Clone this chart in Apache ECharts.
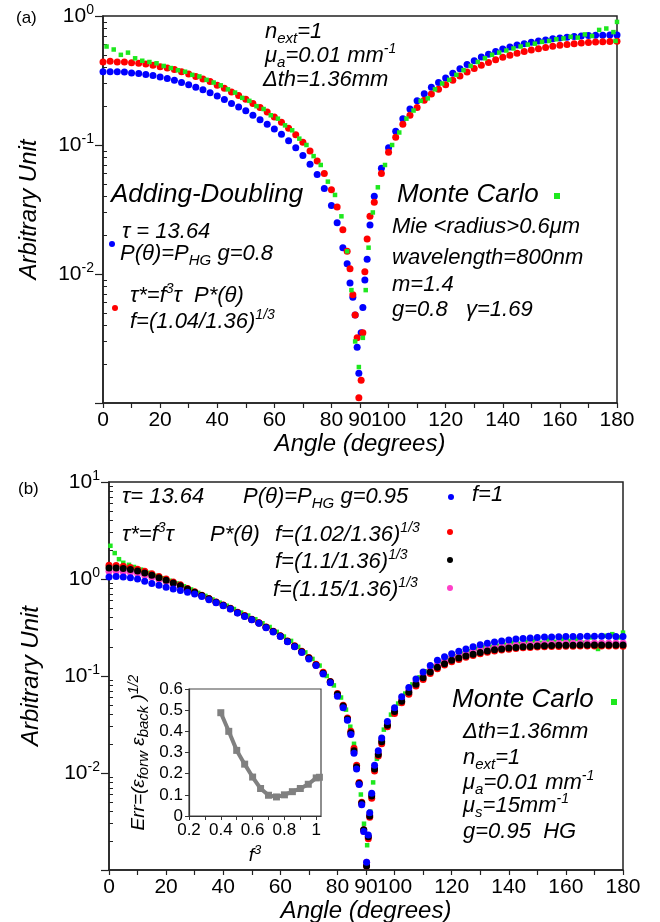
<!DOCTYPE html>
<html><head><meta charset="utf-8">
<script src="https://cdn.jsdelivr.net/npm/echarts@6/dist/echarts.min.js"></script>
<style>html,body{margin:0;padding:0;background:#fff}#c{width:660px;height:922px}</style>
</head><body><div id="c"></div>
<script>
const FONT = '"Liberation Sans", Arial, Helvetica, sans-serif';

// ---------- Panel (a) data ----------
const angA = [0,2.5,5,7.5,10,12.5,15,17.5,20,22.5,25,27.5,30,32.5,35,37.5,40,42.5,45,47.5,50,52.5,55,57.5,60,62.5,65,67.5,70,72.5,75,77.5,80,
  82,84,85.5,86.5,87.5,88.3,89,89.6,
  90.4,91,91.7,92.5,93.5,
  95,97.5,100,102.5,105,107.5,110,112.5,115,117.5,120,122.5,125,127.5,130,132.5,135,137.5,140,142.5,145,147.5,150,152.5,155,157.5,160,162.5,165,167.5,170,172.5,175,177.5,180];
const blueA = [0.37,0.37,0.37,0.368,0.362,0.358,0.352,0.345,0.337,0.327,0.317,0.305,0.293,0.28,0.268,0.254,0.24,0.225,0.21,0.197,0.184,0.17,0.157,0.145,0.133,0.121,0.108,0.095,0.083,0.071,0.059,0.046,0.034,
  0.025,0.016,0.012,0.0085,0.0066,0.0048,0.0027,0.0017,
  0.0035,0.0055,0.009,0.013,0.024,
  0.04,0.066,0.095,0.128,0.16,0.19,0.22,0.25,0.28,0.305,0.33,0.36,0.39,0.42,0.45,0.48,0.505,0.53,0.555,0.575,0.595,0.61,0.625,0.64,0.652,0.665,0.675,0.685,0.693,0.70,0.705,0.708,0.71,0.712,0.713];
const redA = [0.44,0.445,0.44,0.44,0.435,0.43,0.425,0.415,0.405,0.395,0.385,0.37,0.355,0.34,0.325,0.31,0.29,0.275,0.258,0.242,0.226,0.21,0.195,0.18,0.165,0.15,0.135,0.12,0.105,0.09,0.075,0.06,0.045,
  0.033,0.022,0.015,0.011,0.0069,0.0048,0.0032,0.0011,
  0.0015,0.0035,0.0104,0.0187,0.028,
  0.036,0.06,0.088,0.115,0.145,0.17,0.195,0.222,0.248,0.27,0.293,0.318,0.343,0.368,0.392,0.415,0.437,0.458,0.478,0.497,0.515,0.53,0.545,0.558,0.57,0.582,0.592,0.602,0.61,0.617,0.623,0.628,0.632,0.635,0.638];
const angMCA = [1.25,3.75,6.25,8.75,11.25,13.75,16.25,18.75,21.25,23.75,26.25,28.75,31.25,33.75,36.25,38.75,41.25,43.75,46.25,48.75,51.25,53.75,56.25,58.75,61.25,63.75,66.25,68.75,71.25,73.75,76.25,78.75,81.25,
  83.5,85.5,87,88.3,89.6,91,92,93,94.5,
  96.25,98.75,101.25,103.75,106.25,108.75,111.25,113.75,116.25,118.75,121.25,123.75,126.25,128.75,131.25,133.75,136.25,138.75,141.25,143.75,146.25,148.75,151.25,153.75,156.25,158.75,161.25,163.75,166.25,168.75,171.25,173.75,176.25,178.75,179.5,180];
const greenA = [0.58,0.55,0.5,0.52,0.47,0.45,0.44,0.43,0.41,0.395,0.38,0.37,0.35,0.34,0.32,0.305,0.29,0.27,0.255,0.232,0.22,0.2,0.19,0.17,0.16,0.142,0.13,0.112,0.1,0.082,0.07,0.052,0.041,
  0.028,0.015,0.0075,0.003,0.0019,0.0032,0.0075,0.016,0.03,
  0.047,0.07,0.1,0.125,0.16,0.185,0.22,0.23,0.27,0.3,0.32,0.35,0.38,0.41,0.44,0.47,0.5,0.52,0.54,0.56,0.58,0.6,0.61,0.63,0.64,0.66,0.67,0.69,0.68,0.72,0.7,0.78,0.8,0.75,0.64,0.9];

// ---------- Panel (b) data ----------
const angB = [0,2.5,5,7.5,10,12.5,15,17.5,20,22.5,25,27.5,30,32.5,35,37.5,40,42.5,45,47.5,50,52.5,55,57.5,60,62.5,65,67.5,70,72.5,75,77.5,80,
  82,83.5,84.7,85.8,86.7,87.6,88.5,89.2,
  90.2,90.8,91.3,92,93,94.3,95.5,
  97.5,100,102.5,105,107.5,110,112.5,115,117.5,120,122.5,125,127.5,130,132.5,135,137.5,140,142.5,145,147.5,150,152.5,155,157.5,160,162.5,165,167.5,170,172.5,175,177.5,180];
const blueB = [1.05,1.06,1.05,1.03,1.0,0.95,0.9,0.86,0.82,0.79,0.76,0.73,0.7,0.66,0.61,0.57,0.53,0.49,0.445,0.41,0.38,0.35,0.315,0.285,0.255,0.225,0.2,0.175,0.15,0.128,0.105,0.085,0.062,
  0.047,0.035,0.025,0.016,0.011,0.0076,0.0047,0.0025,
  0.0012,0.0023,0.0039,0.0062,0.012,0.017,0.023,
  0.034,0.047,0.061,0.076,0.093,0.11,0.128,0.145,0.158,0.17,0.18,0.19,0.2,0.21,0.217,0.224,0.23,0.235,0.24,0.244,0.247,0.25,0.252,0.253,0.254,0.255,0.256,0.256,0.257,0.257,0.257,0.257,0.256,0.256];
const redB = [1.39,1.38,1.35,1.31,1.26,1.2,1.13,1.06,1.0,0.93,0.87,0.8,0.74,0.68,0.63,0.58,0.54,0.5,0.455,0.42,0.385,0.355,0.32,0.29,0.26,0.23,0.205,0.18,0.155,0.132,0.109,0.088,0.066,
  0.05,0.037,0.027,0.018,0.012,0.008,0.005,0.0026,
  0.0011,0.0021,0.0035,0.0055,0.0105,0.015,0.02,
  0.03,0.041,0.053,0.065,0.079,0.092,0.106,0.119,0.13,0.14,0.148,0.156,0.163,0.17,0.176,0.181,0.185,0.189,0.192,0.195,0.197,0.199,0.2,0.201,0.202,0.203,0.203,0.204,0.204,0.204,0.204,0.204,0.204,0.203];
const blackB = [1.3,1.3,1.28,1.25,1.21,1.15,1.09,1.03,0.97,0.91,0.85,0.79,0.73,0.675,0.625,0.575,0.535,0.495,0.45,0.415,0.383,0.352,0.318,0.288,0.258,0.228,0.203,0.178,0.153,0.13,0.107,0.087,0.065,
  0.049,0.036,0.026,0.017,0.0115,0.0078,0.0049,0.0026,
  0.0011,0.0022,0.0036,0.0058,0.011,0.0155,0.021,
  0.031,0.043,0.055,0.068,0.082,0.096,0.11,0.123,0.134,0.145,0.153,0.161,0.168,0.175,0.181,0.186,0.19,0.194,0.197,0.2,0.202,0.204,0.205,0.206,0.207,0.208,0.208,0.209,0.209,0.209,0.209,0.209,0.209,0.209];
const pinkB = [1.2,1.2,1.19,1.17,1.14,1.09,1.04,0.99,0.94,0.88,0.83,0.77,0.72,0.67,0.62,0.572,0.532,0.492,0.448,0.413,0.381,0.351,0.317,0.287,0.257,0.227,0.202,0.177,0.152,0.129,0.106,0.086,0.064,
  0.048,0.0355,0.0255,0.0165,0.0112,0.0077,0.0048,0.0025,
  0.0012,0.0022,0.0037,0.006,0.0115,0.016,0.022,
  0.032,0.045,0.058,0.071,0.086,0.101,0.116,0.13,0.142,0.153,0.162,0.17,0.178,0.185,0.191,0.196,0.2,0.204,0.207,0.21,0.212,0.214,0.215,0.216,0.217,0.218,0.218,0.219,0.219,0.219,0.219,0.219,0.219,0.219];
const angMCB = [0.5,2,3.5,5,7,
  8.75,11.25,13.75,16.25,18.75,21.25,23.75,26.25,28.75,31.25,33.75,36.25,38.75,41.25,43.75,46.25,48.75,51.25,53.75,56.25,58.75,61.25,63.75,66.25,68.75,71.25,73.75,76.25,78.75,81.25,
  83,84.5,85.8,87,88.2,89.3,90.4,91.5,92.5,93.8,95.2,
  96.25,98.75,101.25,103.75,106.25,108.75,111.25,113.75,116.25,118.75,121.25,123.75,126.25,128.75,131.25,133.75,136.25,138.75,141.25,143.75,146.25,148.75,151.25,153.75,156.25,158.75,161.25,163.75,166.25,168.75,171.25,173.75,176.25,178.75,180];
const greenB = [2.2,1.85,1.6,1.47,1.4,
  1.33,1.25,1.16,1.08,1.02,0.96,0.9,0.84,0.78,0.72,0.67,0.615,0.57,0.53,0.49,0.45,0.42,0.385,0.35,0.32,0.285,0.255,0.23,0.2,0.175,0.15,0.128,0.1,0.08,0.06,
  0.045,0.03,0.02,0.012,0.006,0.003,0.0018,0.004,0.008,0.014,0.022,
  0.028,0.04,0.052,0.066,0.082,0.097,0.112,0.125,0.14,0.152,0.16,0.17,0.18,0.19,0.197,0.2,0.205,0.21,0.22,0.215,0.225,0.23,0.22,0.235,0.225,0.24,0.23,0.24,0.22,0.25,0.19,0.26,0.27,0.25,0.28];

// ---------- Inset data ----------
const f3 = [0.4,0.45,0.5,0.55,0.6,0.65,0.7,0.75,0.8,0.85,0.9,0.95,1.0,1.02];
const errV = [0.488,0.40,0.31,0.245,0.184,0.13,0.098,0.09,0.1,0.115,0.13,0.15,0.18,0.183];

// ---------- Tick values ----------
const xLabels = [0,20,40,60,80,90,100,120,140,160,180];
const xTicks = [0,10,20,30,40,50,60,70,80,90,100,110,120,130,140,150,160,170,180];
const yLabelsA = [1,0.1,0.01];
const yMajorA = [1,0.1,0.01,0.001];
const yLabelsB = [10,1,0.1,0.01];
const yMajorB = [10,1,0.1,0.01,0.001];
const minorA = [0.002,0.003,0.004,0.005,0.006,0.007,0.008,0.009,0.02,0.03,0.04,0.05,0.06,0.07,0.08,0.09,0.2,0.3,0.4,0.5,0.6,0.7,0.8,0.9];
const minorB = minorA.concat([2,3,4,5,6,7,8,9]);
const insetXLabels = [0.2,0.4,0.6,0.8,1];
const insetXTicks = [0.2,0.3,0.4,0.5,0.6,0.7,0.8,0.9,1.0];

const COL = {blue:'#0000ff', red:'#ff0000', green:'#1ee81e', black:'#000000', pink:'#ff40c8', gray:'#808080'};
const AX = '#222';

function zip(xs, ys){ return xs.map((x,i)=>[x, ys[i]]); }

const powRich = {
  b:{fontFamily:FONT, fontSize:21, lineHeight:26, color:'#000'},
  e:{fontFamily:FONT, fontSize:14, lineHeight:14, verticalAlign:'top', color:'#000'}
};
function powFmt(v){ const e = Math.round(Math.log10(v)); return '{b|10}{e|' + e + '}'; }

function xAxisCfg(grid, gap){
  return {gridIndex:grid, type:'value', min:0, max:180,
    axisLine:{show:true, onZero:false, lineStyle:{color:AX, width:1.5}},
    axisTick:{show:true, length:5, inside:false, customValues:xTicks, lineStyle:{color:AX, width:1.2}},
    axisLabel:{show:true, customValues:xLabels, fontSize:21, color:'#000', fontFamily:FONT, margin:7, hideOverlap:false},
    splitLine:{show:false},
    name:'Angle (degrees)', nameLocation:'middle', nameGap:gap,
    nameTextStyle:{fontSize:24, fontStyle:'italic', color:'#000', fontFamily:FONT}};
}
function yMainCfg(grid, min, max, labels, major, gap){
  return {gridIndex:grid, type:'log', logBase:10, min:min, max:max,
    axisLine:{show:true, onZero:false, lineStyle:{color:AX, width:1.5}},
    axisTick:{show:true, length:8, inside:false, customValues:major, lineStyle:{color:AX, width:1.2}},
    axisLabel:{show:true, customValues:labels, formatter:powFmt, rich:powRich, margin:9, color:'#000'},
    splitLine:{show:false}, minorTick:{show:false},
    name:'Arbitrary Unit', nameLocation:'middle', nameGap:gap, nameRotate:90,
    nameTextStyle:{fontSize:24, fontStyle:'italic', color:'#000', fontFamily:FONT}};
}
function yMinorCfg(grid, min, max, minor){
  return {gridIndex:grid, type:'log', logBase:10, min:min, max:max,
    axisLine:{show:false},
    axisTick:{show:true, length:4, inside:false, customValues:minor, lineStyle:{color:AX, width:1}},
    axisLabel:{show:false}, splitLine:{show:false}};
}
function scat(name, xi, yi, data, color, symbol, size){
  return {name, type:'scatter', xAxisIndex:xi, yAxisIndex:yi, data, symbol, symbolSize:size,
    itemStyle:{color:color, opacity:1}, emphasis:{disabled:true}, silent:true, clip:false};
}

// ---------- annotations ----------
const R = {
  i:{fontFamily:FONT, fontStyle:'italic', fontSize:22, lineHeight:28, fill:'#000'},
  s:{fontFamily:FONT, fontStyle:'italic', fontSize:15, lineHeight:15, verticalAlign:'bottom', fill:'#000'},
  p:{fontFamily:FONT, fontStyle:'italic', fontSize:14, lineHeight:14, verticalAlign:'top', fill:'#000'},
  big:{fontFamily:FONT, fontStyle:'italic', fontSize:26, lineHeight:30, fill:'#000'},
  n:{fontFamily:FONT, fontSize:17, lineHeight:22, fill:'#000'}
};
function T(x, y, text){
  return {type:'text', x:x, y:y, z:100, silent:true,
    style:{text:text, rich:R, fill:'#000', font:'italic 22px ' + FONT, align:'left', textAlign:'left', verticalAlign:'middle', textVerticalAlign:'middle'}};
}
function dot(x, y, c){ return {type:'circle', z:100, silent:true, shape:{cx:x, cy:y, r:3}, style:{fill:c}}; }
function sq(x, y, c){ return {type:'rect', z:100, silent:true, shape:{x:x-3, y:y-3, width:6, height:6}, style:{fill:c}}; }

const graphics = [
  T(16, 18, '{n|(a)}'),
  T(265, 32, '{i|n}{s|ext}{i|=1}'),
  T(265, 56, '{i|μ}{s|a}{i|=0.01 mm}{p|-1}'),
  T(263, 80, '{i|Δth=1.36mm}'),
  T(111, 195, '{big|Adding-Doubling}'),
  dot(112, 244, COL.blue),
  T(122, 232, '{i|τ = 13.64}'),
  T(120, 254, '{i|P(θ)=P}{s|HG}{i| g=0.8}'),
  dot(115, 308, COL.red),
  T(130, 296, '{i|τ*=f}{p|3}{i|τ  P*(θ)}'),
  T(130, 322, '{i|f=(1.04/1.36)}{p|1/3}'),
  T(397, 195, '{big|Monte Carlo}'),
  sq(557, 196, COL.green),
  T(392, 227, '{i|Mie <radius>0.6μm}'),
  T(392, 258, '{i|wavelength=800nm}'),
  T(392, 285, '{i|m=1.4}'),
  T(392, 310, '{i|g=0.8   γ=1.69}'),

  T(18, 489, '{n|(b)}'),
  T(122, 497, '{i|τ= 13.64}'),
  T(243, 497, '{i|P(θ)=P}{s|HG}{i| g=0.95}'),
  dot(451, 497, COL.blue),
  T(472, 495, '{i|f=1}'),
  T(122, 535, '{i|τ*=f}{p|3}{i|τ}'),
  T(210, 535, '{i|P*(θ)}'),
  T(275, 535, '{i|f=(1.02/1.36)}{p|1/3}'),
  dot(450, 532, COL.red),
  T(275, 562, '{i|f=(1.1/1.36)}{p|1/3}'),
  dot(450, 560, COL.black),
  T(273, 590, '{i|f=(1.15/1.36)}{p|1/3}'),
  dot(450, 588, COL.pink),
  T(452, 700, '{big|Monte Carlo}'),
  sq(614, 702, COL.green),
  T(463, 732, '{i|Δth=1.36mm}'),
  T(463, 758, '{i|n}{s|ext}{i|=1}'),
  T(463, 783, '{i|μ}{s|a}{i|=0.01 mm}{p|-1}'),
  T(463, 806, '{i|μ}{s|s}{i|=15mm}{p|-1}'),
  T(463, 832, '{i|g=0.95  HG}')
];

const option = {
  animation:false,
  backgroundColor:'#fff',
  textStyle:{fontFamily:FONT},
  grid:[
    {left:103, top:16, width:514, height:387, show:true, borderColor:AX, borderWidth:1.5, backgroundColor:'transparent', containLabel:false, outerBoundsMode:'none'},
    {left:109, top:482, width:514, height:388, show:true, borderColor:AX, borderWidth:1.5, backgroundColor:'transparent', containLabel:false, outerBoundsMode:'none'},
    {left:189, top:689, width:132, height:127, show:true, borderColor:'#444', borderWidth:1.2, backgroundColor:'#fff', containLabel:false, outerBoundsMode:'none', z:5}
  ],
  xAxis:[
    xAxisCfg(0, 24),
    xAxisCfg(1, 25),
    {gridIndex:2, type:'value', min:0.2, max:1.03, z:6,
      axisLine:{show:true, onZero:false, lineStyle:{color:'#333', width:1.2}},
      axisTick:{show:true, length:4, inside:false, customValues:insetXTicks, lineStyle:{color:'#333'}},
      axisLabel:{show:true, customValues:insetXLabels, fontSize:17, color:'#000', fontFamily:FONT, margin:6, hideOverlap:false},
      splitLine:{show:false},
      name:'{i|f}{p|3}', nameLocation:'middle', nameGap:28,
      nameTextStyle:{rich:{
        i:{fontFamily:FONT, fontStyle:'italic', fontSize:19, lineHeight:24, color:'#000'},
        p:{fontFamily:FONT, fontStyle:'italic', fontSize:13, lineHeight:13, verticalAlign:'top', color:'#000'}}}}
  ],
  yAxis:[
    yMainCfg(0, 0.001, 1, yLabelsA, yMajorA, 62),
    yMinorCfg(0, 0.001, 1, minorA),
    yMainCfg(1, 0.001, 10, yLabelsB, yMajorB, 66),
    yMinorCfg(1, 0.001, 10, minorB),
    {gridIndex:2, type:'value', min:0, max:0.6, interval:0.1, z:6,
      axisLine:{show:true, onZero:false, lineStyle:{color:'#333', width:1.2}},
      axisTick:{show:true, length:4, inside:false, lineStyle:{color:'#333'}},
      axisLabel:{show:true, fontSize:17, color:'#000', fontFamily:FONT, margin:6},
      splitLine:{show:false},
      name:'{i|Err=(ε}{s|forw}{i| ε}{s|back}{i| )}{p|1/2}', nameLocation:'middle', nameGap:38, nameRotate:90,
      nameTextStyle:{rich:{
        i:{fontFamily:FONT, fontStyle:'italic', fontSize:19, lineHeight:24, color:'#000'},
        s:{fontFamily:FONT, fontStyle:'italic', fontSize:15, lineHeight:15, verticalAlign:'bottom', color:'#000'},
        p:{fontFamily:FONT, fontStyle:'italic', fontSize:14, lineHeight:14, verticalAlign:'top', color:'#000'}}}}
  ],
  series:[
    scat('AD f=1 (a)', 0, 0, zip(angA, blueA), COL.blue, 'circle', 7),
    scat('AD f* (a)', 0, 0, zip(angA, redA), COL.red, 'circle', 7),
    scat('MC (a)', 0, 0, zip(angMCA, greenA), COL.green, 'rect', 4.5),

    scat('MC (b)', 1, 2, zip(angMCB, greenB), COL.green, 'rect', 4.5),
    scat('f=(1.15/1.36)^1/3', 1, 2, zip(angB, pinkB), COL.pink, 'circle', 7),
    scat('f=(1.02/1.36)^1/3', 1, 2, zip(angB, redB), COL.red, 'circle', 7),
    scat('f=(1.1/1.36)^1/3', 1, 2, zip(angB, blackB), COL.black, 'circle', 7),
    scat('f=1', 1, 2, zip(angB, blueB), COL.blue, 'circle', 7),

    {name:'Err', type:'line', xAxisIndex:2, yAxisIndex:4, data:zip(f3, errV), z:7,
      symbol:'rect', symbolSize:7, showAllSymbol:true,
      lineStyle:{color:COL.gray, width:4}, itemStyle:{color:COL.gray}, emphasis:{disabled:true}, silent:true}
  ],
  graphic:graphics
};

const chart = echarts.init(document.getElementById('c'), null, {renderer:'canvas', width:660, height:922});
chart.setOption(option);
</script></body></html>
